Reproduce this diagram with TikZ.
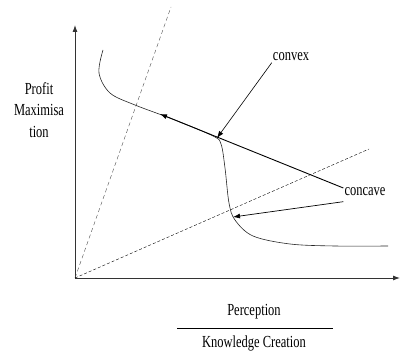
\documentclass[tikz,border=0pt]{standalone}
\usepackage{fontspec}
\setmainfont{Liberation Serif}
\usetikzlibrary{arrows.meta}
\begin{document}
\begin{tikzpicture}[x=1pt,y=1pt,>={Latex[length=7pt,width=5pt]},
		lbl/.style={font=\fontsize{12.5}{16}\selectfont, yscale=1.35, inner sep=1pt}]
		\useasboundingbox (-75,-75) rectangle (326,278);
		% axes
		\coordinate (O) at (0,0);
		\coordinate (ytop) at (0,253);
		\coordinate (xend) at (325,0);
		\draw[->, line width=0.9pt, black!80] (O) -- (ytop);
		\draw[->, line width=0.9pt, black!80] (O) -- (xend);
		
		% dashed rays
		\coordinate (ray1) at (96,271);
		\coordinate (ray2) at (294,129);
		\draw[dash pattern=on 4pt off 3pt, black!70] (O) -- (ray1);
		\draw[dash pattern=on 3pt off 2pt] (O) -- (ray2);
		
		% curve
		\draw[line width=0.6pt, black!85] plot[smooth, tension=0.55] coordinates {(28,228) (24,205) (35,185) (60,173) (100,158) (138,142) (146,134) (150,110) (154,75) (160,58) (178,42) (215,34) (260,32) (313,32)};
		
		% labels
		\node[lbl, align=center] (ylab) at (-36,168) {Profit\\Maximisa\\tion};
		\node[lbl] (convex) at (216,221) {convex};
		\node[lbl] (concave) at (290,86) {concave};
		\node[lbl] (perc) at (179,-34) {Perception};
		\node[lbl] (kc) at (179,-65) {Knowledge Creation};
		\coordinate (barL) at (102,-50);
		\coordinate (barR) at (258,-50);
		\draw[line width=0.7pt] (barL) -- (barR);
		
		% arrows
		\coordinate (tipA) at (142,140);
		\coordinate (tipB) at (158,61);
		\coordinate (tipC) at (85,164);
		\draw[->, line width=0.6pt] (convex.south west) -- (tipA);
		\draw[->, line width=0.7pt] ([yshift=-4pt]concave.south west) -- (tipB);
		\draw[->, line width=0.9pt] ([yshift=4pt]concave.west) -- (tipC);
	\end{tikzpicture}
\end{document}
